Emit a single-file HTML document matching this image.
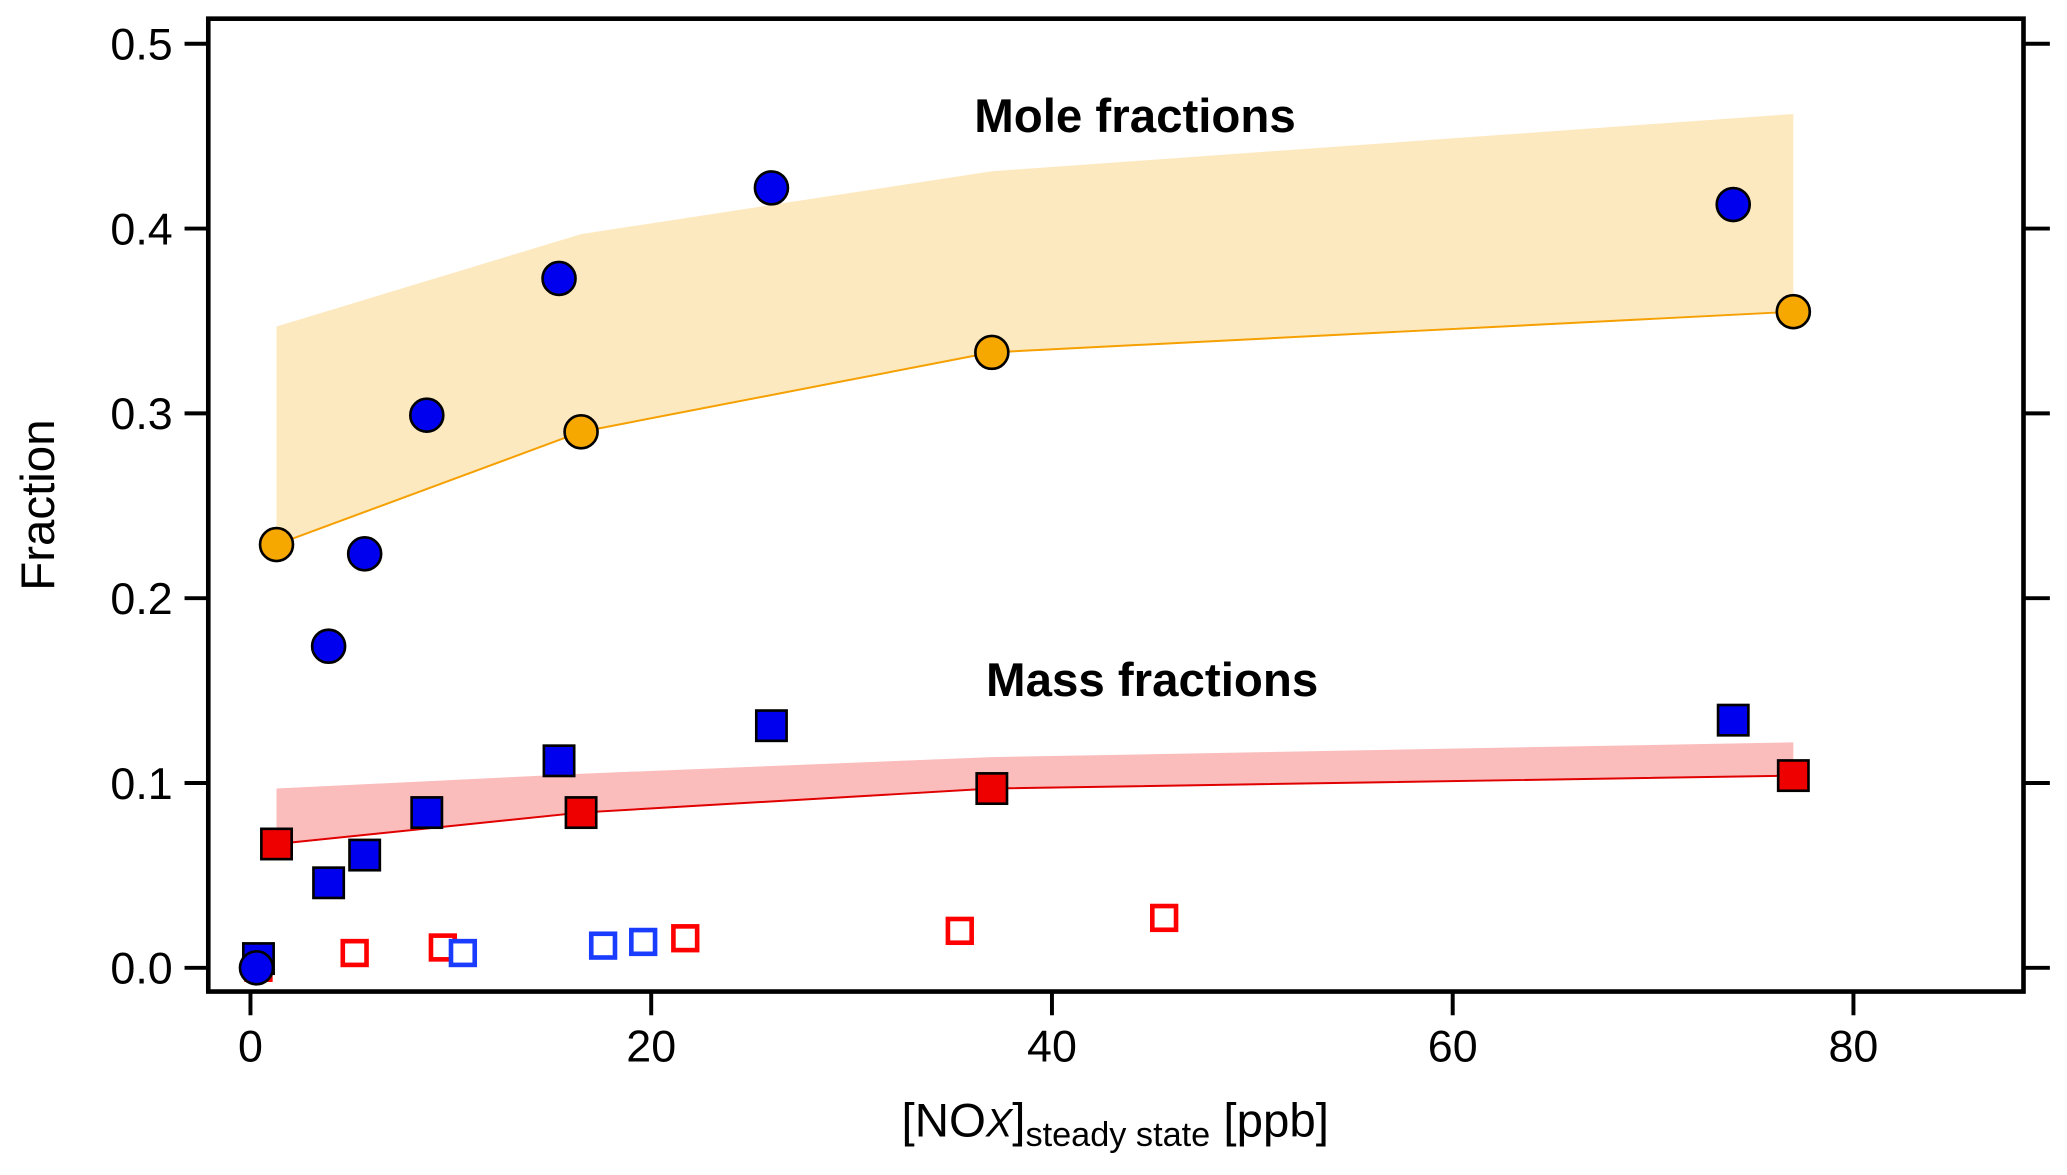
<!DOCTYPE html>
<html><head><meta charset="utf-8"><style>
html,body{margin:0;padding:0;background:#fff;}
svg{display:block;font-family:"Liberation Sans",Arial,sans-serif;}
</style></head><body>
<svg id="chart" width="2067" height="1175" viewBox="0 0 1568 891" xmlns="http://www.w3.org/2000/svg">
<g id="bands"></g><g id="lines"></g><g id="marks"></g>
<rect x="158" y="14" width="1377" height="738" fill="none" stroke="#000" stroke-width="3.5"/>
<g id="axes"></g>
<text x="861" y="100" font-size="36" font-weight="bold" text-anchor="middle">Mole fractions</text>
<text x="874" y="528" font-size="36" font-weight="bold" text-anchor="middle">Mass fractions</text>
<text transform="translate(41,383) rotate(-90)" font-size="36" text-anchor="middle">Fraction</text>
<text x="846" y="862" font-size="36" text-anchor="middle">[NO<tspan font-style="italic" font-size="30">X</tspan>]<tspan font-size="26" dy="7">steady state</tspan><tspan dy="-7"> [ppb]</tspan></text>
</svg>
<script>
const xTicks=[0,20,40,60,80];
const yTicks=[0.0,0.1,0.2,0.3,0.4,0.5];
const moleX=[0.3,3.9,5.7,8.8,15.4,26,74];
const moleY=[0.0,0.174,0.224,0.299,0.373,0.422,0.413];
const modelX=[1.3,16.5,37,77];
const moleModelLow=[0.229,0.290,0.333,0.355];
const moleModelHigh=[0.347,0.397,0.431,0.462];
const massX=[0.4,3.9,5.7,8.8,15.4,26,74];
const massY=[0.005,0.046,0.061,0.084,0.112,0.131,0.134];
const massModelLow=[0.067,0.084,0.097,0.104];
const massModelHigh=[0.097,0.105,0.114,0.122];
const openRedX=[0.4,5.2,9.6,21.7,35.4,45.6];
const openRedY=[0.0,0.008,0.011,0.016,0.020,0.027];
const openBlueX=[10.6,17.6,19.6];
const openBlueY=[0.008,0.012,0.014];
const NS="http://www.w3.org/2000/svg";
const X=v=>190+v*15.2, Y=v=>734-v*1402;
function mk(tag,attrs,parent){const e=document.createElementNS(NS,tag);for(const k in attrs)e.setAttribute(k,attrs[k]);document.getElementById(parent).appendChild(e);return e;}
function band(lo,hi,fill,name){let p=modelX.map((x,i)=>X(x)+","+Y(hi[i]));for(let i=modelX.length-1;i>=0;i--)p.push(X(modelX[i])+","+Y(lo[i]));
const e=mk('polygon',{points:p.join(' '),fill:fill},'bands');

}
band(moleModelLow,moleModelHigh,'#fde9c0','mole-model-band');
band(massModelLow,massModelHigh,'#fbbcbc','mass-model-band');
function line(ys,c,name){const e=mk('polyline',{points:modelX.map((x,i)=>X(x)+","+Y(ys[i])).join(' '),fill:'none',stroke:c,'stroke-width':1.5},'lines');

}
line(moleModelLow,'#f5a000','mole-model-line');
line(massModelLow,'#e00000','mass-model-line');
openRedX.forEach((x,i)=>{const e=mk('rect',{x:X(x)-9,y:Y(openRedY[i])-9,width:18,height:18,fill:'#fff',stroke:'#f00','stroke-width':3.5},'marks');

});
openBlueX.forEach((x,i)=>{const e=mk('rect',{x:X(x)-9,y:Y(openBlueY[i])-9,width:18,height:18,fill:'#fff',stroke:'#1a3cff','stroke-width':3.5},'marks');

});
massX.forEach((x,i)=>{const e=mk('rect',{x:X(x)-11.5,y:Y(massY[i])-11.5,width:23,height:23,fill:'#0000ee',stroke:'#000','stroke-width':2},'marks');

});
modelX.forEach((x,i)=>{const e=mk('rect',{x:X(x)-11.5,y:Y(massModelLow[i])-11.5,width:23,height:23,fill:'#ee0000',stroke:'#000','stroke-width':2},'marks');

});
moleX.forEach((x,i)=>{const e=mk('circle',{cx:X(x),cy:Y(moleY[i]),r:12.5,fill:'#0000ee',stroke:'#000','stroke-width':2},'marks');

});
modelX.forEach((x,i)=>{const e=mk('circle',{cx:X(x),cy:Y(moleModelLow[i]),r:12.5,fill:'#f7a800',stroke:'#000','stroke-width':2},'marks');

});
xTicks.forEach(t=>{const l=mk('line',{x1:X(t),x2:X(t),y1:752,y2:770,stroke:'#000','stroke-width':3},'axes');


const e=mk('text',{x:X(t),y:805,'font-size':34,'text-anchor':'middle'},'axes');e.textContent=t;

});
yTicks.forEach(t=>{[[140,158],[1535,1555]].forEach(([a,b])=>{const l=mk('line',{x1:a,x2:b,y1:Y(t),y2:Y(t),stroke:'#000','stroke-width':3},'axes');

});
const e=mk('text',{x:131,y:Y(t)+12,'font-size':34,'text-anchor':'end'},'axes');e.textContent=t.toFixed(1);

});
</script>
</body></html>
